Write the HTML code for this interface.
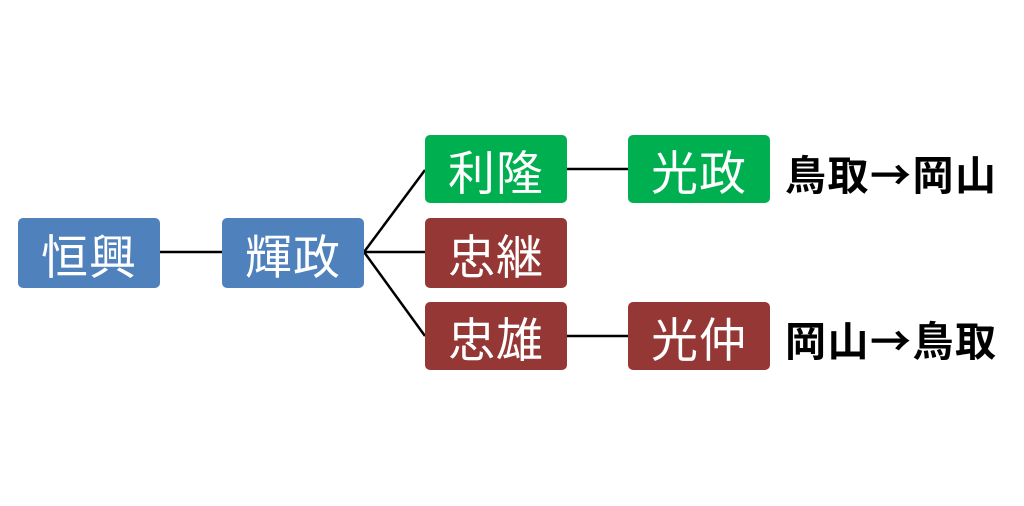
<!DOCTYPE html>
<html><head><meta charset="utf-8"><style>
body{margin:0;width:1024px;height:506px;background:#fff;position:relative;overflow:hidden;font-family:"Liberation Sans","Noto Sans CJK JP",sans-serif}
.b{position:absolute;width:142px;border-radius:5px;color:#fff;font-size:47px;display:flex;align-items:center;justify-content:center;letter-spacing:1px}
.bl{background:#4f81bd}.g{background:#00b050}.r{background:#953735}
.t{position:absolute;font-size:41px;font-weight:bold;color:#000;left:785px;font-family:"Noto Sans CJK JP",sans-serif;line-height:1;white-space:nowrap;letter-spacing:1.5px}
</style></head><body>
<svg width="1024" height="506" style="position:absolute;left:0;top:0">
<g stroke="#000" stroke-width="2.5">
<line x1="160" y1="252" x2="222" y2="252"/>
<line x1="364" y1="252" x2="425" y2="170"/>
<line x1="364" y1="252" x2="425" y2="252"/>
<line x1="364" y1="252" x2="425" y2="336"/>
<line x1="567" y1="169" x2="628" y2="169"/>
<line x1="567" y1="336" x2="628" y2="336"/>
</g></svg>
<div class="b bl" style="left:18px;top:218px;height:70px">恒興</div>
<div class="b bl" style="left:222px;top:218px;height:70px">輝政</div>
<div class="b g" style="left:425px;top:135px;height:68px">利隆</div>
<div class="b r" style="left:425px;top:218px;height:70px">忠継</div>
<div class="b r" style="left:425px;top:302px;height:68px">忠雄</div>
<div class="b g" style="left:628px;top:135px;height:68px">光政</div>
<div class="b r" style="left:628px;top:302px;height:68px">光仲</div>
<div class="t" style="top:152px">鳥取→岡山</div>
<div class="t" style="top:318px">岡山→鳥取</div>
</body></html>
